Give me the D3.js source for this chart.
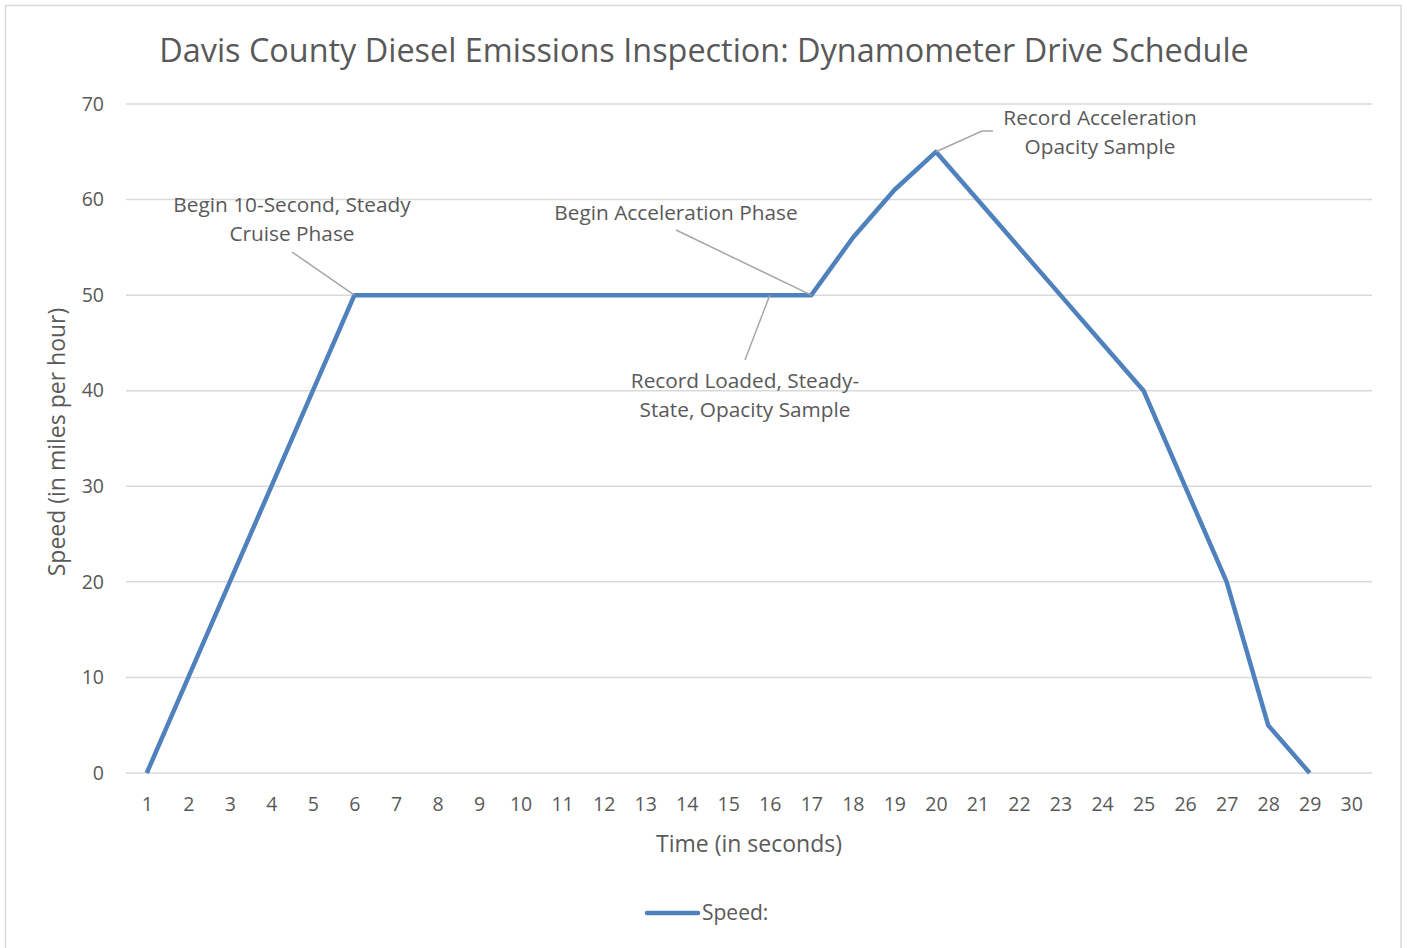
<!DOCTYPE html>
<html><head><meta charset="utf-8">
<script src="https://cdn.jsdelivr.net/npm/d3@7"></script>
<style>body{margin:0;background:#fff}text{font-family:"Open Sans",sans-serif;fill:#595959}</style>
</head><body><svg id="c" width="1407" height="948"></svg>
<script>
const categories = d3.range(1, 31).map(String);
const speed = [0,10,20,30,40,50,50,50,50,50,50,50,50,50,50,50,50,56,61,65,60,55,50,45,40,30,20,5,0,null];
const yTicks = [0,10,20,30,40,50,60,70];
const title = "Davis County Diesel Emissions Inspection: Dynamometer Drive Schedule";
const xTitle = "Time (in seconds)";
const yTitle = "Speed (in miles per hour)";
const seriesName = "Speed:";
const annotations = [
  {lines:["Begin 10-Second, Steady","Cruise Phase"], cat:"6", tx:292, ty:205, lx:292, ly:252},
  {lines:["Begin Acceleration Phase"], cat:"17", tx:676, ty:213, lx:676, ly:230},
  {lines:["Record Loaded, Steady-","State, Opacity Sample"], cat:"16", tx:745, ty:381, lx:745, ly:360},
  {lines:["Record Acceleration","Opacity Sample"], cat:"20", tx:1100, ty:118, lx:982, ly:131, hx:993}
];

const svg = d3.select("#c");
const L = 126, R = 1372, T = 104, B = 773;
svg.append("rect").attr("x",5.5).attr("y",5.5).attr("width",1395.5).attr("height",960)
  .attr("fill","#fff").attr("stroke","#d9d9d9").attr("stroke-width",1.5);

const x = d3.scalePoint().domain(categories).range([L, R]).padding(0.5);
const y = d3.scaleLinear().domain([0,70]).range([B, T]);

svg.append("g").selectAll("line").data(yTicks).join("line")
  .attr("x1",L).attr("x2",R).attr("y1",d=>y(d)).attr("y2",d=>y(d))
  .attr("stroke","#d9d9d9").attr("stroke-width",1.5);

const yAxis = svg.append("g").attr("transform",`translate(${L},0)`)
  .call(d3.axisLeft(y).tickValues(yTicks).tickSize(0).tickPadding(22));
yAxis.select(".domain").remove();
yAxis.selectAll("text").attr("font-size",19.5).attr("fill","#595959").attr("font-family","Open Sans");

const xAxis = svg.append("g").attr("transform",`translate(0,${B})`)
  .call(d3.axisBottom(x).tickSize(0).tickPadding(24));
xAxis.select(".domain").remove();
xAxis.selectAll("text").attr("font-size",19.5).attr("fill","#595959").attr("font-family","Open Sans");

const line = d3.line().defined(d=>d.v!=null).x(d=>x(d.c)).y(d=>y(d.v));
const data = categories.map((c,i)=>({c, v:speed[i]}));
svg.append("path").datum(data).attr("d",line).attr("fill","none")
  .attr("stroke","#4f81bd").attr("stroke-width",4.5).attr("stroke-linejoin","round");

annotations.forEach(a=>{
  const px = x(a.cat), py = y(speed[categories.indexOf(a.cat)]);
  let pts = [[px,py],[a.lx,a.ly]];
  if (a.hx) pts.push([a.hx,a.ly]);
  svg.append("path").attr("d",d3.line()(pts)).attr("fill","none").attr("stroke","#a6a6a6").attr("stroke-width",1.5);
  a.lines.forEach((t,i)=>{
    svg.append("text").attr("x",a.tx).attr("y",a.ty+i*29).attr("dy","0.35em")
      .attr("text-anchor","middle").attr("font-size",20.8).text(t);
  });
});

svg.append("text").attr("x",704).attr("y",51).attr("dy","0.35em").attr("text-anchor","middle")
  .attr("font-size",32.4).text(title);
svg.append("text").attr("x",749).attr("y",844).attr("dy","0.35em").attr("text-anchor","middle")
  .attr("font-size",23).text(xTitle);
svg.append("text").attr("transform","translate(57,442) rotate(-90)").attr("dy","0.35em")
  .attr("text-anchor","middle").attr("font-size",23).text(yTitle);

svg.append("line").attr("x1",647).attr("x2",698).attr("y1",913).attr("y2",913)
  .attr("stroke","#4f81bd").attr("stroke-width",4.5).attr("stroke-linecap","round");
svg.append("text").attr("x",702).attr("y",913).attr("dy","0.35em").attr("font-size",21).text(seriesName);
</script></body></html>
